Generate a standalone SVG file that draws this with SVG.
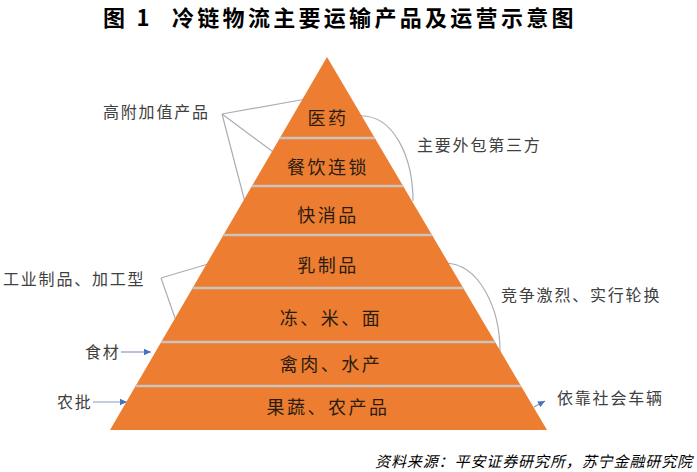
<svg xmlns="http://www.w3.org/2000/svg" width="697" height="472" viewBox="0 0 697 472">
<style>
.title{font-family:"Noto Sans CJK SC","Liberation Sans",sans-serif;font-weight:bold;font-size:22px;fill:#000;letter-spacing:3.3px}
.band{font-family:"Noto Sans CJK SC","Liberation Sans",sans-serif;font-size:18px;fill:#2a1c10;letter-spacing:2.5px;text-anchor:middle}
.lbl{font-family:"Noto Sans CJK SC","Liberation Sans",sans-serif;font-size:16px;fill:#404040;letter-spacing:1.8px}
.src{font-family:"Noto Sans CJK SC","Liberation Sans",sans-serif;font-size:15px;fill:#000;font-style:italic;letter-spacing:0.9px}
.conn{fill:none;stroke:#a9aeb6;stroke-width:1.2}
.arr{fill:none;stroke:#8a9bb8;stroke-width:1.2;marker-end:url(#ah)}
.sep{stroke:#cbc4bd;stroke-width:2.5}
</style>
<defs>
<marker id="ah" markerWidth="8" markerHeight="8" refX="7" refY="4" orient="auto" markerUnits="userSpaceOnUse">
<path d="M0,0.8 L7,4 L0,7.2 Z" fill="#4472c4"/>
</marker>
</defs>
<rect width="697" height="472" fill="#fff"/>
<text class="title" x="103" y="26">图 1</text>
<text class="title" x="172" y="26">冷链物流主要运输产品及运营示意图</text>
<g id="connectors">
<path class="conn" d="M222,114 L306,99 M222,114 L280,157 M222,114 L246,206"/>
<path class="conn" d="M161,278 L208,264 M161,278 L175,318"/>
<path class="conn" d="M356,116 C395,112 413,160 413,201"/>
<path class="conn" d="M443,263 C480,262 500,310 500,351"/>
<path class="arr" d="M121,352 L151,352"/>
<path class="arr" d="M93,402 L127,402"/>
<path class="arr" d="M534,407 L545,401"/>
</g>
<g id="pyramid">
<path d="M327,57 L110,430 L547,430 Z" fill="#ed7d31"/>
<line class="sep" x1="279.9" y1="138" x2="374.8" y2="138"/>
<line class="sep" x1="251.9" y1="186" x2="403.1" y2="186"/>
<line class="sep" x1="223.4" y1="235" x2="432" y2="235"/>
<line class="sep" x1="192.6" y1="288" x2="463.3" y2="288"/>
<line class="sep" x1="161.1" y1="342" x2="495.2" y2="342"/>
<line class="sep" x1="135.5" y1="386" x2="521.1" y2="386"/>
</g>
<g id="n1"><text class="band" x="328" y="124.5">医药</text></g>
<g id="n2"><text class="band" x="328" y="173.5">餐饮连锁</text></g>
<g id="n3"><text class="band" x="328" y="221.5">快消品</text></g>
<g id="n4"><text class="band" x="328" y="271.5">乳制品</text></g>
<g id="n5"><text class="band" x="331" y="324.5">冻、米、面</text></g>
<g id="n6"><text class="band" x="331" y="370.5">禽肉、水产</text></g>
<g id="n7"><text class="band" x="328" y="413.5">果蔬、农产品</text></g>
<g id="l1"><text class="lbl" x="103" y="118">高附加值产品</text></g>
<g id="l2"><text class="lbl" x="3" y="285">工业制品、加工型</text></g>
<g id="l3"><text class="lbl" x="85" y="358">食材</text></g>
<g id="l4"><text class="lbl" x="57" y="408">农批</text></g>
<g id="r1"><text class="lbl" x="417" y="151">主要外包第三方</text></g>
<g id="r2"><text class="lbl" x="501" y="301">竞争激烈、实行轮换</text></g>
<g id="r3"><text class="lbl" x="557" y="404">依靠社会车辆</text></g>
<text class="src" x="375" y="467">资料来源：平安证券研究所，苏宁金融研究院</text>
</svg>
